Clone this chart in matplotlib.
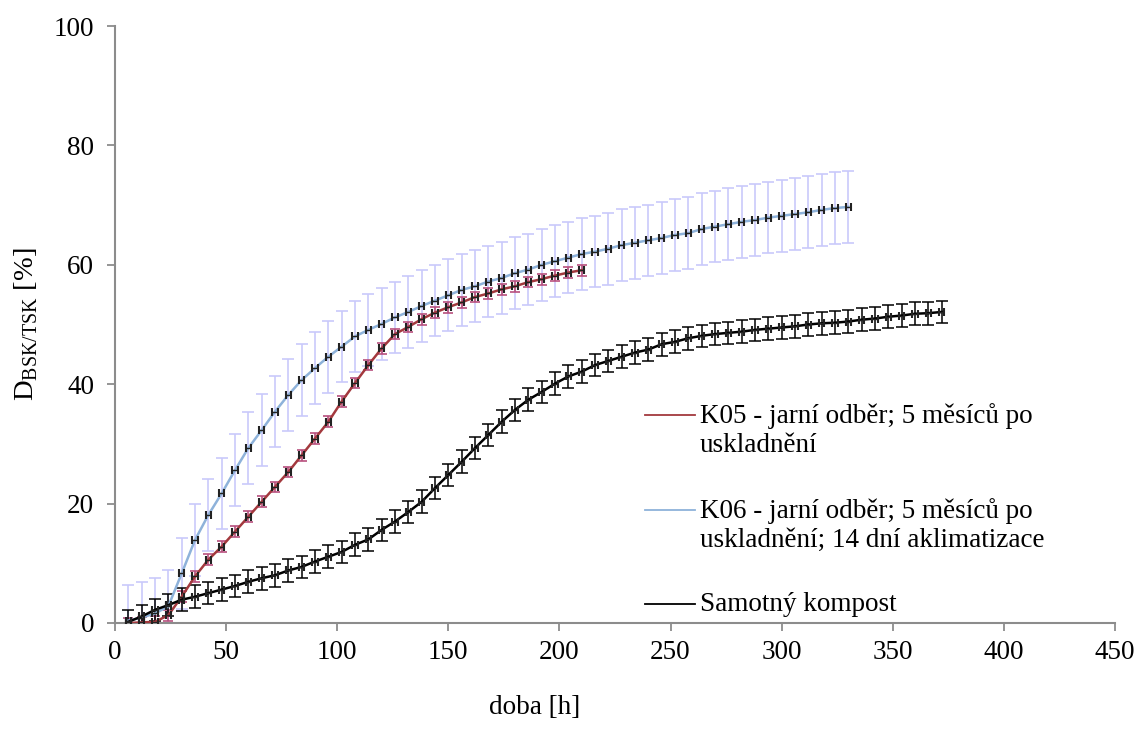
import numpy as np
import matplotlib.pyplot as plt
from matplotlib.lines import Line2D

plt.rcParams['font.family'] = ['Liberation Serif', 'DejaVu Serif']
plt.rcParams['mathtext.fontset'] = 'custom'
plt.rcParams['mathtext.rm'] = 'Liberation Serif'

# ===== data: hours and D_BSK/TSK [%] =====
hours = [6, 12, 18, 24, 30, 36, 42, 48, 54, 60, 66, 72, 78, 84, 90, 96, 102, 108,
         114, 120, 126, 132, 138, 144, 150, 156, 162, 168, 174, 180, 186, 192, 198,
         204, 210, 216, 222, 228, 234, 240, 246, 252, 258, 264, 270, 276, 282, 288,
         294, 300, 306, 312, 318, 324, 330, 336, 342, 348, 354, 360, 366, 372]

k05 = [0.0, 0.1, 0.2, 1.3, 4.4, 7.8, 10.6, 12.8, 15.3, 17.8, 20.3, 22.8, 25.3, 28.1,
       30.9, 33.7, 37.1, 40.2, 43.2, 46.0, 48.4, 49.6, 50.9, 52.0, 52.9, 53.7, 54.6,
       55.2, 55.9, 56.4, 57.1, 57.6, 58.2, 58.7, 59.1]

k06 = [0.4, 0.9, 1.6, 2.8, 8.3, 13.9, 18.1, 21.7, 25.6, 29.3, 32.3, 35.4, 38.2, 40.7,
       42.7, 44.6, 46.3, 48.0, 49.1, 50.1, 51.2, 52.1, 53.1, 54.0, 54.9, 55.8, 56.4,
       57.2, 57.8, 58.6, 59.2, 60.0, 60.6, 61.2, 61.8, 62.2, 62.7, 63.3, 63.7, 64.1,
       64.5, 65.0, 65.3, 66.0, 66.4, 66.8, 67.2, 67.5, 67.9, 68.2, 68.5, 68.8, 69.2,
       69.5, 69.7]

kompost = [0.2, 1.1, 2.2, 3.0, 3.9, 4.4, 5.0, 5.6, 6.2, 6.9, 7.5, 8.0, 8.8, 9.4, 10.3,
           11.1, 11.9, 13.1, 14.0, 15.6, 17.0, 18.6, 20.3, 22.6, 24.8, 27.0, 29.3, 31.5,
           33.7, 35.7, 37.4, 38.7, 40.1, 41.3, 42.1, 43.2, 43.9, 44.6, 45.3, 45.8, 46.7,
           47.1, 47.7, 48.1, 48.4, 48.6, 48.8, 49.1, 49.3, 49.5, 49.7, 50.0, 50.2, 50.3,
           50.5, 50.8, 51.0, 51.3, 51.5, 51.8, 51.9, 52.1]

k05_err = 0.9
k06_err = 6.0
kompost_err = 1.9
time_err = 1.2

labels = ["K05 - jarní odběr; 5 měsíců po\nuskladnění",
          "K06 - jarní odběr; 5 měsíců po\nuskladnění; 14 dní aklimatizace",
          "Samotný kompost"]

c_k05, c_k06, c_komp = '#A3393E', '#8EB2DA', '#000000'
fs = 19.5

fig = plt.figure(figsize=(11.36, 7.47), dpi=100)
ax = fig.add_axes([115 / 1136, 1 - 623 / 747, 1000 / 1136, 597 / 747])

t05 = hours[:len(k05)]
t06 = hours[:len(k06)]

# y error bars
ax.errorbar(t06, k06, yerr=k06_err, fmt='none', ecolor='#C9C9FB', elinewidth=1.2,
            capsize=4.5, capthick=1.2, zorder=1)
ax.errorbar(t05, k05, yerr=k05_err, fmt='none', ecolor='#B8507E', elinewidth=1.2,
            capsize=3.5, capthick=1.2, zorder=2)
ax.errorbar(hours, kompost, yerr=kompost_err, fmt='none', ecolor='black', elinewidth=1.1,
            capsize=4.3, capthick=1.1, zorder=2)

# lines
ax.plot(t06, k06, color=c_k06, lw=1.8, zorder=3)
ax.plot(t05, k05, color=c_k05, lw=1.8, zorder=3)
ax.plot(hours, kompost, color=c_komp, lw=1.8, zorder=3)

# x error bars
for t, y in [(t06, k06), (t05, k05), (hours, kompost)]:
    ax.errorbar(t, y, xerr=time_err, fmt='none', ecolor='#222222', elinewidth=1.0,
                capsize=2.8, capthick=1.5, zorder=4)

ax.set_xlim(0, 450)
ax.set_ylim(0, 100)
ax.set_xticks(np.arange(0, 451, 50))
ax.set_yticks(np.arange(0, 101, 20))
for s in ['top', 'right']:
    ax.spines[s].set_visible(False)
for s in ['left', 'bottom']:
    ax.spines[s].set_color('#8C8C8C')
    ax.spines[s].set_linewidth(1.5)
ax.tick_params(direction='out', length=6, width=1.3, color='#8C8C8C',
               labelsize=fs, pad=6)
ax.tick_params(axis='y', pad=9)

ax.set_ylabel(r'D$_{\mathregular{BSK/TSK}}$ [%]', fontsize=20.5, labelpad=10)
fig.text(535 / 1136, 1 - 707 / 747, 'doba [h]', fontsize=fs, ha='center', va='center')

# legend entries
entry_y = [415, 510, 604]
for (yy, lab, col) in zip(entry_y, labels, [c_k05, c_k06, c_komp]):
    fy = 1 - yy / 747
    fig.add_artist(Line2D([645 / 1136, 695 / 1136], [fy, fy], color=col, lw=1.3))
    fig.text(700 / 1136, fy + 0.016, lab, fontsize=fs, ha='left', va='top',
             linespacing=1.22)

fig.savefig('out.png', dpi=100)
